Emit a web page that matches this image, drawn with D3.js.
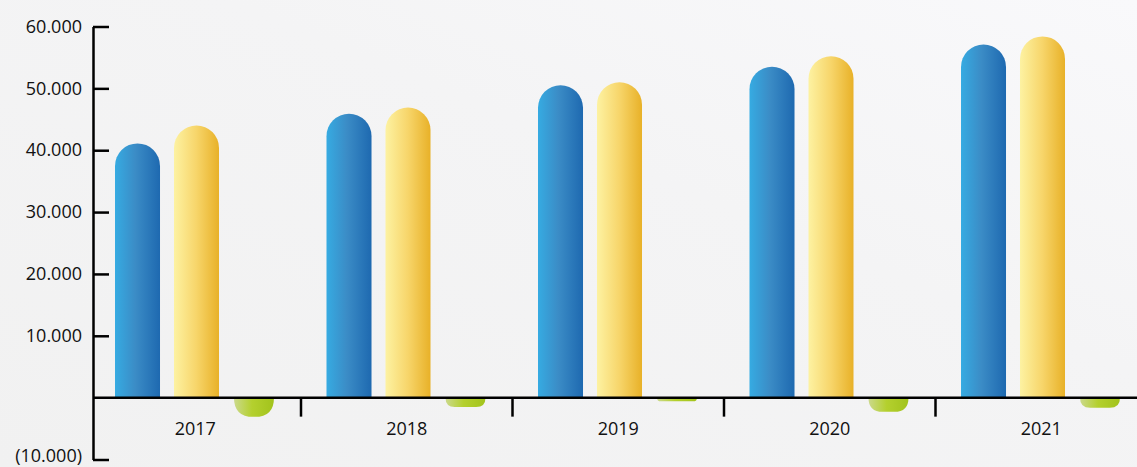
<!DOCTYPE html>
<html>
<head>
<meta charset="utf-8">
<script src="https://cdn.jsdelivr.net/npm/d3@7"></script>
<style>
  body { margin: 0; background: #f3f3f3; }
  svg { display: block; }
  .tick text { font-family: "Open Sans", sans-serif; font-size: 18px; fill: #111; }
</style>
</head>
<body>
<div id="chart"></div>
<script>
// data
var years = ["2017", "2018", "2019", "2020", "2021"];
var seriesNames = ["blue", "yellow", "green"];
var blueValues = [41100, 45900, 50500, 53500, 57100];
var yellowValues = [44000, 46900, 51000, 55200, 58400];
var greenValues = [-3100, -1500, -600, -2300, -1650];
var yTicks = [-10000, 10000, 20000, 30000, 40000, 50000, 60000];
var yTickLabels = ["(10.000)", "10.000", "20.000", "30.000", "40.000", "50.000", "60.000"];

var width = 1137, height = 467;

var svg = d3.select("#chart").append("svg")
    .attr("width", width)
    .attr("height", height);

var defs = svg.append("defs");

// soft background
var bg = defs.append("linearGradient").attr("id", "bg")
    .attr("x1", "0").attr("y1", "1").attr("x2", "1").attr("y2", "0");
bg.append("stop").attr("offset", "0").attr("stop-color", "#f1f1f1");
bg.append("stop").attr("offset", "0.6").attr("stop-color", "#f4f4f5");
bg.append("stop").attr("offset", "1").attr("stop-color", "#f9f9fb");
svg.append("rect").attr("width", width).attr("height", height).attr("fill", "url(#bg)");

var grads = {
    blue: [["0", "#36abe2"], ["0.45", "#3b8cc6"], ["1", "#1e69b0"]],
    yellow: [["0", "#fdf2a2"], ["0.5", "#f7d56a"], ["1", "#e8b128"]],
    green: [["0", "#cbd98c"], ["0.45", "#b4d02e"], ["1", "#a2c31c"]]
};
seriesNames.forEach(function (s) {
    var g = defs.append("linearGradient").attr("id", "g-" + s)
        .attr("x1", "0").attr("y1", "0").attr("x2", "1").attr("y2", "0");
    grads[s].forEach(function (st) {
        g.append("stop").attr("offset", st[0]).attr("stop-color", st[1]);
    });
});

var x = d3.scaleBand()
    .domain(years)
    .range([89.5, 89.5 + 211.5 * years.length])
    .padding(0);

var xInner = d3.scaleBand()
    .domain(seriesNames)
    .range([25.5, 188.5])
    .paddingInner(0.237)
    .paddingOuter(0);

var y = d3.scaleLinear()
    .domain([-10000, 60000])
    .range([459.5, 26.5]);

var data = years.map(function (yr, i) {
    return { year: yr, blue: blueValues[i], yellow: yellowValues[i], green: greenValues[i] };
});

// pill shaped bar: rounded at the end away from zero
function pill(x0, w, v) {
    var y0 = y(0), y1 = y(v);
    var h = Math.abs(y1 - y0);
    var r = Math.min(w / 2, h);
    if (v >= 0) {
        return "M" + x0 + "," + y0 +
            "V" + (y1 + r) +
            "A" + (w / 2) + "," + r + " 0 0 1 " + (x0 + w) + "," + (y1 + r) +
            "V" + y0 + "Z";
    }
    return "M" + x0 + "," + y0 +
        "V" + (y1 - r) +
        "Q" + x0 + "," + y1 + " " + (x0 + r) + "," + y1 +
        "H" + (x0 + w - r) +
        "Q" + (x0 + w) + "," + y1 + " " + (x0 + w) + "," + (y1 - r) +
        "V" + y0 + "Z";
}

var groups = svg.append("g").selectAll("g")
    .data(data)
    .enter().append("g")
    .attr("transform", function (d) { return "translate(" + x(d.year) + ",0)"; });

groups.selectAll("path")
    .data(function (d) { return seriesNames.map(function (s) { return { key: s, value: d[s] }; }); })
    .enter().append("path")
    .attr("fill", function (d) { return "url(#g-" + d.key + ")"; })
    .attr("d", function (d) {
        var w = xInner.bandwidth();
        var x0 = xInner(d.key);
        if (d.key == "green") { x0 = x0 + 1; w = w - 5; }
        return pill(x0, w, d.value);
    });

// x axis
var xAxis = svg.append("g")
    .attr("transform", "translate(0," + y(0) + ")");
xAxis.append("line")
    .attr("x1", 93).attr("x2", width)
    .attr("stroke", "#000").attr("stroke-width", 2.5);
xAxis.selectAll(".sep")
    .data(years.slice(1))
    .enter().append("line")
    .attr("class", "sep")
    .attr("x1", function (d) { return x(d); })
    .attr("x2", function (d) { return x(d); })
    .attr("y1", 0).attr("y2", 19)
    .attr("stroke", "#000").attr("stroke-width", 2.5);
var xLabels = svg.append("g")
    .attr("transform", "translate(0," + (y(0) + 19) + ")")
    .call(d3.axisBottom(x).tickSize(0).tickPadding(6));
xLabels.select(".domain").remove();

// y axis
var yAxis = svg.append("g")
    .attr("transform", "translate(93,0)")
    .call(d3.axisLeft(y)
        .tickValues(yTicks)
        .tickFormat(function (d, i) { return yTickLabels[i]; })
        .tickSize(-16)
        .tickSizeOuter(0)
        .tickPadding(11));
yAxis.select(".domain").attr("stroke-width", 2.5);
yAxis.selectAll(".tick line").attr("stroke-width", 2.5);
yAxis.selectAll(".tick text").attr("x", -11);
yAxis.selectAll(".tick text").filter(function (d) { return d < 0; }).attr("dy", "0.1em");
</script>
</body>
</html>
